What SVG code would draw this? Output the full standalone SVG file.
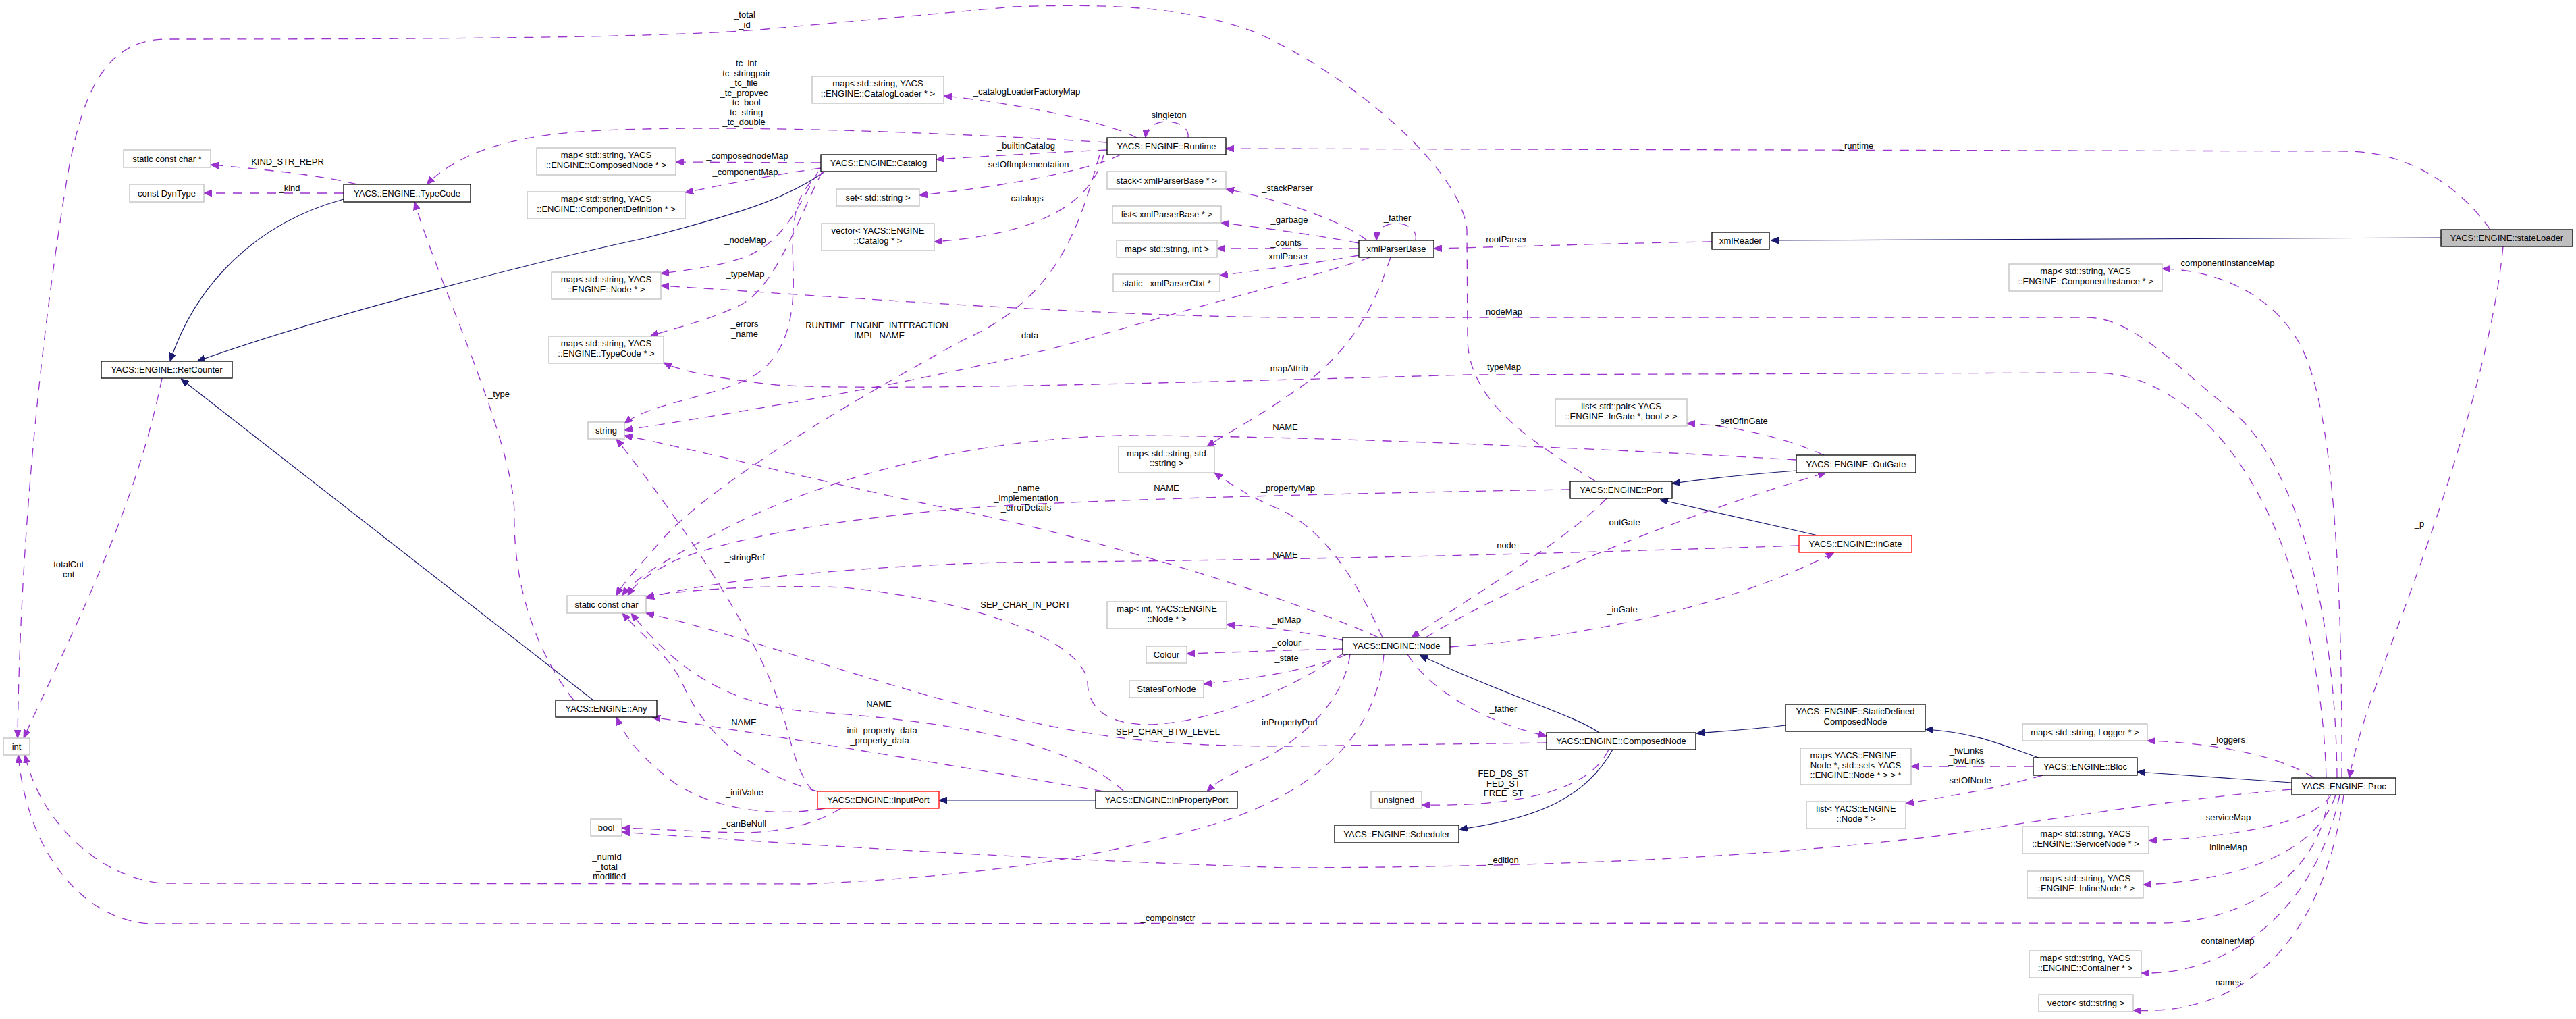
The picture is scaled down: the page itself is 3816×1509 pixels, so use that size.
<svg xmlns="http://www.w3.org/2000/svg" width="3816" height="1509" viewBox="0 0 3816 1509">
<style>
text{font-family:"Liberation Sans",Arial,sans-serif;font-size:13px;text-anchor:middle;fill:#000}
.nb rect{fill:#fff;stroke:#000;stroke-width:1.3}
.ng rect{fill:#fff;stroke:#bfbfbf;stroke-width:1.3}
.nr rect{fill:#fff;stroke:#ff0000;stroke-width:1.3}
.ns rect{fill:#bfbfbf;stroke:#000;stroke-width:1.3}
.u{fill:none;stroke:#9a32cd;stroke-width:1.3;stroke-dasharray:14,11;marker-end:url(#ap)}
.i{fill:none;stroke:#191970;stroke-width:1.2;marker-end:url(#ab)}
</style>
<defs>
<marker id="ap" viewBox="0 0 12 10" refX="12" refY="5" markerWidth="12" markerHeight="10" markerUnits="userSpaceOnUse" orient="auto"><path d="M0,0 L12,5 L0,10 z" fill="#9a32cd" stroke="#9a32cd"/></marker>
<marker id="ab" viewBox="0 0 12 10" refX="12" refY="5" markerWidth="12" markerHeight="10" markerUnits="userSpaceOnUse" orient="auto"><path d="M0,0 L12,5 L0,10 z" fill="#191970" stroke="#191970"/></marker>
</defs>
<rect x="0" y="0" width="3816" height="1509" fill="#fff"/>
<g id="connectors">
<path class="i" d="M3616,352 L2623,356"/>
<path class="i" d="M509,295 C380,330 290,420 252,535"/>
<path class="i" d="M1222,254 C1170,290 1120,310 954,353 C850,375 500,460 292,535"/>
<path class="i" d="M879,1037 L268,561"/>
<path class="i" d="M2661,697 C2580,703 2520,710 2477,716"/>
<path class="i" d="M2693,793 L2459,740"/>
<path class="i" d="M1623,1185 L1391,1185"/>
<path class="i" d="M2369,1085 C2330,1058 2230,1030 2103,970"/>
<path class="i" d="M2389,1110 C2350,1180 2280,1212 2162,1228"/>
<path class="i" d="M2645,1074 C2600,1080 2560,1082 2513,1086"/>
<path class="i" d="M3020,1122 C2970,1105 2930,1085 2852,1080"/>
<path class="i" d="M3395,1159 L3166,1143"/>
<path class="u" d="M529,273 C470,258 380,250 312,244"/>
<path class="u" d="M509,286 L302,286"/>
<path class="u" d="M1640,211 C1300,190 1000,185 860,195 C760,202 680,225 632,273"/>
<path class="u" d="M1684,204 C1640,180 1500,152 1398,142"/>
<path class="u" d="M1760,204 C1762,188 1745,180 1728,180 C1712,180 1698,188 1697,204"/>
<path class="u" d="M1640,222 C1550,226 1450,232 1387,236"/>
<path class="u" d="M1660,229 C1620,250 1500,275 1362,289"/>
<path class="u" d="M1635,229 C1620,290 1560,345 1384,358"/>
<path class="u" d="M1629,229 C1600,330 1570,440 1428,503 C1250,600 1050,720 980,800 C950,835 925,860 913,882"/>
<path class="u" d="M1216,241 L1001,240"/>
<path class="u" d="M1216,249 C1150,258 1080,272 1015,285"/>
<path class="u" d="M1212,254 C1180,310 1160,360 1100,382 C1060,395 1020,400 979,405"/>
<path class="u" d="M1218,254 C1180,330 1150,420 1100,450 C1050,475 1000,485 963,498"/>
<path class="u" d="M1222,254 C1175,280 1172,330 1175,400 C1178,480 1160,540 1100,565 C1040,590 960,600 925,627"/>
<path class="u" d="M2025,356 C2000,335 1920,300 1816,280"/>
<path class="u" d="M2013,360 C1960,350 1880,338 1809,330"/>
<path class="u" d="M2013,368 L1803,368"/>
<path class="u" d="M2013,378 C1960,388 1880,398 1807,408"/>
<path class="u" d="M2030,381 C1980,400 1750,460 1600,505 C1400,560 1100,610 925,637"/>
<path class="u" d="M2097,356 C2100,340 2085,331 2069,331 C2050,331 2040,340 2039,356"/>
<path class="u" d="M2060,381 C2040,440 2010,520 1908,586 C1860,620 1820,640 1788,661"/>
<path class="u" d="M2536,358 C2400,360 2250,365 2124,368"/>
<path class="u" d="M3689,340 C3640,270 3560,224 3476,224 L1816,220"/>
<path class="u" d="M3708,365 C3690,550 3600,800 3540,960 C3510,1040 3490,1100 3480,1152"/>
<path class="u" d="M3469,1152 C3470,900 3460,650 3420,540 C3390,450 3300,400 3203,398"/>
<path class="u" d="M3462,1152 C3460,900 3400,680 3300,603 C3220,540 3160,470 3090,470 L1900,470 C1600,467 1250,440 979,423"/>
<path class="u" d="M3446,1152 C3440,950 3380,720 3250,610 C3190,565 3150,552 3096,552 L2176,555 C1800,565 1300,580 1150,570 C1060,560 1010,550 983,537"/>
<path class="u" d="M3449,1177 C3440,1290 3330,1366 3200,1367 L220,1368 C120,1360 40,1260 27,1118"/>
<path class="u" d="M2050,969 C2040,1080 1960,1170 1800,1220 C1600,1280 1400,1300 1197,1309 L240,1308 C150,1300 60,1220 37,1118"/>
<path class="u" d="M240,560 C200,760 100,950 35,1093"/>
<path class="u" d="M2364,713 C2280,660 2176,600 2174,503 L2173,340 C2165,250 2000,110 1860,48 C1760,10 1650,5 1500,10 L1136,43 C1000,55 700,58 243,58 C150,60 120,150 100,260 C60,500 30,800 26,1093"/>
<path class="u" d="M850,1037 C790,960 760,860 762,760 C760,650 650,420 614,299"/>
<path class="u" d="M1222,1197 C1150,1210 1060,1200 1000,1160 C960,1130 930,1100 913,1062"/>
<path class="u" d="M1635,1172 C1450,1140 1150,1090 966,1062"/>
<path class="u" d="M1246,1197 C1200,1225 1150,1232 1100,1233 C1040,1232 980,1228 921,1226"/>
<path class="u" d="M3395,1169 C3200,1185 3000,1220 2862,1239 C2600,1270 2300,1284 1908,1285 C1500,1272 1100,1245 921,1232"/>
<path class="u" d="M1205,1172 C1175,1140 1170,1080 1150,1030 C1110,920 1000,760 913,650"/>
<path class="u" d="M1211,1172 C1100,1140 1040,1080 1010,1010 C990,970 950,940 922,908"/>
<path class="u" d="M1665,1172 C1600,1110 1450,1070 1200,1054 C1080,1045 1000,990 935,908"/>
<path class="u" d="M2291,1100 L1908,1105 C1750,1105 1650,1098 1500,1063 C1300,1015 1100,940 957,908"/>
<path class="u" d="M1992,966 C1900,1030 1780,1072 1700,1073 C1640,1072 1612,1050 1611,1010 C1605,950 1450,890 1250,870 C1120,865 1000,875 957,884"/>
<path class="u" d="M2665,808 C2300,820 1900,830 1477,833 C1250,840 1050,860 957,886"/>
<path class="u" d="M2326,725 C2000,730 1700,738 1500,748 C1300,760 1100,790 1000,830 C960,850 940,865 930,882"/>
<path class="u" d="M2661,681 C2300,660 1900,645 1660,645 C1450,650 1250,700 1100,770 C1000,820 940,855 922,882"/>
<path class="u" d="M2042,944 C1900,880 1600,790 1400,752 C1200,710 1050,670 925,645"/>
<path class="u" d="M2048,944 C2010,860 1960,780 1890,752 C1850,735 1820,715 1799,700"/>
<path class="u" d="M1989,948 C1930,935 1870,928 1817,925"/>
<path class="u" d="M1989,961 C1900,963 1820,966 1758,968"/>
<path class="u" d="M1995,969 C1950,990 1860,1005 1783,1013"/>
<path class="u" d="M2000,969 C1990,1040 1930,1090 1880,1120 C1840,1140 1810,1150 1788,1172"/>
<path class="u" d="M2085,969 C2110,1010 2180,1065 2291,1090"/>
<path class="u" d="M2112,944 C2250,860 2500,760 2705,700"/>
<path class="u" d="M2148,958 C2400,940 2600,880 2717,818"/>
<path class="u" d="M2380,738 C2320,800 2200,870 2091,944"/>
<path class="u" d="M2702,674 C2650,650 2570,630 2499,627"/>
<path class="u" d="M2383,1110 C2360,1160 2280,1195 2106,1192"/>
<path class="u" d="M3012,1135 L2831,1135"/>
<path class="u" d="M3026,1148 C2950,1170 2880,1180 2823,1190"/>
<path class="u" d="M3428,1152 C3380,1120 3280,1100 3181,1097"/>
<path class="u" d="M3453,1177 C3430,1220 3300,1240 3183,1245"/>
<path class="u" d="M3460,1177 C3430,1270 3300,1305 3175,1310"/>
<path class="u" d="M3466,1177 C3430,1350 3300,1445 3172,1441"/>
<path class="u" d="M3472,1177 C3440,1400 3320,1505 3160,1496"/>
<g id="edge-labels">
<text x="426" y="244">KIND_STR_REPR</text>
<text x="429" y="283">_kind</text>
<text x="1102" y="98">_tc_int<tspan x="1102" dy="14.5">_tc_stringpair</tspan><tspan x="1102" dy="14.5">_tc_file</tspan><tspan x="1102" dy="14.5">_tc_propvec</tspan><tspan x="1102" dy="14.5">_tc_bool</tspan><tspan x="1102" dy="14.5">_tc_string</tspan><tspan x="1102" dy="14.5">_tc_double</tspan></text>
<text x="1103" y="26">_total<tspan x="1103" dy="14.5">_id</tspan></text>
<text x="1521" y="140">_catalogLoaderFactoryMap</text>
<text x="1728" y="175">_singleton</text>
<text x="1520" y="220">_builtinCatalog</text>
<text x="1520" y="248">_setOfImplementation</text>
<text x="1518" y="298">_catalogs</text>
<text x="1107" y="235">_composednodeMap</text>
<text x="1104" y="259">_componentMap</text>
<text x="1104" y="360">_nodeMap</text>
<text x="1104" y="410">_typeMap</text>
<text x="1103" y="484">_errors<tspan x="1103" dy="14.5">_name</tspan></text>
<text x="1299" y="486">RUNTIME_ENGINE_INTERACTION<tspan x="1299" dy="14.5">_IMPL_NAME</tspan></text>
<text x="1522" y="501">_data</text>
<text x="1907" y="283">_stackParser</text>
<text x="1910" y="330">_garbage</text>
<text x="1905" y="364">_counts</text>
<text x="1905" y="384">_xmlParser</text>
<text x="2070" y="327">_father</text>
<text x="2228" y="359">_rootParser</text>
<text x="2750" y="220">_runtime</text>
<text x="2228" y="466">nodeMap</text>
<text x="3300" y="394">componentInstanceMap</text>
<text x="3584" y="780">_p</text>
<text x="1906" y="550">_mapAttrib</text>
<text x="2228" y="548">typeMap</text>
<text x="2580" y="628">_setOfInGate</text>
<text x="1904" y="637">NAME</text>
<text x="1908" y="727">_propertyMap</text>
<text x="1728" y="727">NAME</text>
<text x="1520" y="727">_name<tspan x="1520" dy="14.5">_implementation</tspan><tspan x="1520" dy="14.5">_errorDetails</tspan></text>
<text x="1904" y="826">NAME</text>
<text x="2403" y="778">_outGate</text>
<text x="2228" y="812">_node</text>
<text x="1103" y="830">_stringRef</text>
<text x="1519" y="900">SEP_CHAR_IN_PORT</text>
<text x="1906" y="922">_idMap</text>
<text x="2403" y="907">_inGate</text>
<text x="1906" y="956">_colour</text>
<text x="1906" y="979">_state</text>
<text x="98" y="840">_totalCnt<tspan x="98" dy="14.5">_cnt</tspan></text>
<text x="739" y="588">_type</text>
<text x="1302" y="1047">NAME</text>
<text x="1102" y="1074">NAME</text>
<text x="1303" y="1086">_init_property_data<tspan x="1303" dy="14.5">_property_data</tspan></text>
<text x="1730" y="1088">SEP_CHAR_BTW_LEVEL</text>
<text x="1907" y="1074">_inPropertyPort</text>
<text x="1103" y="1178">_initValue</text>
<text x="1102" y="1224">_canBeNull</text>
<text x="899" y="1273">_numId<tspan x="899" dy="14.5">_total</tspan><tspan x="899" dy="14.5">_modified</tspan></text>
<text x="1730" y="1364">_compoinstctr</text>
<text x="2227" y="1054">_father</text>
<text x="2227" y="1150">FED_DS_ST<tspan x="2227" dy="14.5">FED_ST</tspan><tspan x="2227" dy="14.5">FREE_ST</tspan></text>
<text x="2227" y="1278">_edition</text>
<text x="2913" y="1116">_fwLinks<tspan x="2913" dy="14.5">_bwLinks</tspan></text>
<text x="2915" y="1160">_setOfNode</text>
<text x="3301" y="1100">_loggers</text>
<text x="3301" y="1215">serviceMap</text>
<text x="3301" y="1259">inlineMap</text>
<text x="3300" y="1398">containerMap</text>
<text x="3301" y="1459">names</text>
</g>
</g>
<g id="n_stateLoader" class="ns"><rect x="3616" y="340" width="195" height="25"/><text x="3713.5" y="357">YACS::ENGINE::stateLoader</text></g>
<g id="n_xmlReader" class="nb"><rect x="2536" y="344" width="85" height="25"/><text x="2578.5" y="361">xmlReader</text></g>
<g id="n_xmlParserBase" class="nb"><rect x="2013" y="356" width="111" height="25"/><text x="2068.5" y="373">xmlParserBase</text></g>
<g id="n_Runtime" class="nb"><rect x="1640" y="204" width="176" height="25"/><text x="1728" y="221">YACS::ENGINE::Runtime</text></g>
<g id="n_Catalog" class="nb"><rect x="1216" y="229" width="171" height="25"/><text x="1301.5" y="246">YACS::ENGINE::Catalog</text></g>
<g id="n_mapCatalogLoader" class="ng"><rect x="1203" y="113" width="195" height="40"/><text x="1300.5" y="128">map&lt; std::string, YACS<tspan x="1300.5" dy="14.5">::ENGINE::CatalogLoader * &gt;</tspan></text></g>
<g id="n_setString" class="ng"><rect x="1239" y="280" width="123" height="25"/><text x="1300.5" y="297">set&lt; std::string &gt;</text></g>
<g id="n_vectorCatalog" class="ng"><rect x="1217" y="331" width="167" height="40"/><text x="1300.5" y="346">vector&lt; YACS::ENGINE<tspan x="1300.5" dy="14.5">::Catalog * &gt;</tspan></text></g>
<g id="n_stack" class="ng"><rect x="1640" y="254" width="176" height="26"/><text x="1728" y="271.5">stack&lt; xmlParserBase * &gt;</text></g>
<g id="n_list" class="ng"><rect x="1648" y="305" width="161" height="25"/><text x="1728.5" y="322">list&lt; xmlParserBase * &gt;</text></g>
<g id="n_mapStringInt" class="ng"><rect x="1654" y="356" width="149" height="25"/><text x="1728.5" y="373">map&lt; std::string, int &gt;</text></g>
<g id="n_xmlParserCtxt" class="ng"><rect x="1649" y="406" width="158" height="26"/><text x="1728" y="423.5">static _xmlParserCtxt *</text></g>
<g id="n_staticConstCharPtr" class="ng"><rect x="183" y="222" width="129" height="26"/><text x="247.5" y="239.5">static const char *</text></g>
<g id="n_constDynType" class="ng"><rect x="192" y="273" width="110" height="26"/><text x="247" y="290.5">const DynType</text></g>
<g id="n_TypeCode" class="nb"><rect x="509" y="273" width="188" height="26"/><text x="603" y="290.5">YACS::ENGINE::TypeCode</text></g>
<g id="n_mapComposedNode" class="ng"><rect x="795" y="219" width="206" height="40"/><text x="898" y="234">map&lt; std::string, YACS<tspan x="898" dy="14.5">::ENGINE::ComposedNode * &gt;</tspan></text></g>
<g id="n_mapComponentDefinition" class="ng"><rect x="781" y="284" width="234" height="40"/><text x="898" y="299">map&lt; std::string, YACS<tspan x="898" dy="14.5">::ENGINE::ComponentDefinition * &gt;</tspan></text></g>
<g id="n_mapNode" class="ng"><rect x="817" y="403" width="162" height="40"/><text x="898" y="418">map&lt; std::string, YACS<tspan x="898" dy="14.5">::ENGINE::Node * &gt;</tspan></text></g>
<g id="n_mapTypeCode" class="ng"><rect x="813" y="498" width="170" height="40"/><text x="898" y="513">map&lt; std::string, YACS<tspan x="898" dy="14.5">::ENGINE::TypeCode * &gt;</tspan></text></g>
<g id="n_RefCounter" class="nb"><rect x="150" y="535" width="194" height="25"/><text x="247" y="552">YACS::ENGINE::RefCounter</text></g>
<g id="n_string" class="ng"><rect x="871" y="625" width="54" height="25"/><text x="898" y="642">string</text></g>
<g id="n_staticConstChar" class="ng"><rect x="840" y="882" width="117" height="26"/><text x="898.5" y="899.5">static const char</text></g>
<g id="n_int" class="ng"><rect x="5" y="1093" width="39" height="25"/><text x="24.5" y="1110">int</text></g>
<g id="n_Any" class="nb"><rect x="823" y="1037" width="150" height="25"/><text x="898" y="1054">YACS::ENGINE::Any</text></g>
<g id="n_bool" class="ng"><rect x="875" y="1213" width="46" height="25"/><text x="898" y="1230">bool</text></g>
<g id="n_InputPort" class="nr"><rect x="1211" y="1172" width="180" height="25"/><text x="1301" y="1189">YACS::ENGINE::InputPort</text></g>
<g id="n_InPropertyPort" class="nb"><rect x="1623" y="1172" width="210" height="25"/><text x="1728" y="1189">YACS::ENGINE::InPropertyPort</text></g>
<g id="n_StatesForNode" class="ng"><rect x="1673" y="1008" width="110" height="25"/><text x="1728" y="1025">StatesForNode</text></g>
<g id="n_Colour" class="ng"><rect x="1698" y="957" width="60" height="25"/><text x="1728" y="974">Colour</text></g>
<g id="n_mapIntNode" class="ng"><rect x="1640" y="891" width="177" height="40"/><text x="1728.5" y="906">map&lt; int, YACS::ENGINE<tspan x="1728.5" dy="14.5">::Node * &gt;</tspan></text></g>
<g id="n_mapStringString" class="ng"><rect x="1657" y="661" width="142" height="39"/><text x="1728" y="675.5">map&lt; std::string, std<tspan x="1728" dy="14.5">::string &gt;</tspan></text></g>
<g id="n_listPair" class="ng"><rect x="2304" y="591" width="195" height="40"/><text x="2401.5" y="606">list&lt; std::pair&lt; YACS<tspan x="2401.5" dy="14.5">::ENGINE::InGate *, bool &gt; &gt;</tspan></text></g>
<g id="n_OutGate" class="nb"><rect x="2661" y="674" width="177" height="26"/><text x="2749.5" y="691.5">YACS::ENGINE::OutGate</text></g>
<g id="n_Port" class="nb"><rect x="2326" y="713" width="151" height="25"/><text x="2401.5" y="730">YACS::ENGINE::Port</text></g>
<g id="n_InGate" class="nr"><rect x="2665" y="793" width="167" height="25"/><text x="2748.5" y="810">YACS::ENGINE::InGate</text></g>
<g id="n_Node" class="nb"><rect x="1989" y="944" width="159" height="25"/><text x="2068.5" y="961">YACS::ENGINE::Node</text></g>
<g id="n_ComposedNode" class="nb"><rect x="2291" y="1085" width="221" height="25"/><text x="2401.5" y="1102">YACS::ENGINE::ComposedNode</text></g>
<g id="n_StaticDefinedComposedNode" class="nb"><rect x="2645" y="1043" width="207" height="40"/><text x="2748.5" y="1058">YACS::ENGINE::StaticDefined<tspan x="2748.5" dy="14.5">ComposedNode</tspan></text></g>
<g id="n_mapLinks" class="ng"><rect x="2667" y="1108" width="164" height="54"/><text x="2749" y="1123">map&lt; YACS::ENGINE::<tspan x="2749" dy="14.5">Node *, std::set&lt; YACS</tspan><tspan x="2749" dy="14.5">::ENGINE::Node * &gt; &gt; *</tspan></text></g>
<g id="n_listNode" class="ng"><rect x="2676" y="1187" width="147" height="40"/><text x="2749.5" y="1202">list&lt; YACS::ENGINE<tspan x="2749.5" dy="14.5">::Node * &gt;</tspan></text></g>
<g id="n_unsigned" class="ng"><rect x="2031" y="1172" width="75" height="25"/><text x="2068.5" y="1189">unsigned</text></g>
<g id="n_Scheduler" class="nb"><rect x="1977" y="1222" width="184" height="26"/><text x="2069" y="1239.5">YACS::ENGINE::Scheduler</text></g>
<g id="n_Bloc" class="nb"><rect x="3012" y="1122" width="154" height="26"/><text x="3089" y="1139.5">YACS::ENGINE::Bloc</text></g>
<g id="n_mapLogger" class="ng"><rect x="2996" y="1072" width="185" height="25"/><text x="3088.5" y="1089">map&lt; std::string, Logger * &gt;</text></g>
<g id="n_Proc" class="nb"><rect x="3395" y="1152" width="154" height="25"/><text x="3472" y="1169">YACS::ENGINE::Proc</text></g>
<g id="n_mapServiceNode" class="ng"><rect x="2996" y="1224" width="187" height="40"/><text x="3089.5" y="1239">map&lt; std::string, YACS<tspan x="3089.5" dy="14.5">::ENGINE::ServiceNode * &gt;</tspan></text></g>
<g id="n_mapInlineNode" class="ng"><rect x="3003" y="1290" width="172" height="40"/><text x="3089" y="1305">map&lt; std::string, YACS<tspan x="3089" dy="14.5">::ENGINE::InlineNode * &gt;</tspan></text></g>
<g id="n_mapContainer" class="ng"><rect x="3006" y="1408" width="166" height="40"/><text x="3089" y="1423">map&lt; std::string, YACS<tspan x="3089" dy="14.5">::ENGINE::Container * &gt;</tspan></text></g>
<g id="n_vectorString" class="ng"><rect x="3020" y="1473" width="140" height="25"/><text x="3090" y="1490">vector&lt; std::string &gt;</text></g>
<g id="n_mapComponentInstance" class="ng"><rect x="2976" y="391" width="227" height="40"/><text x="3089.5" y="406">map&lt; std::string, YACS<tspan x="3089.5" dy="14.5">::ENGINE::ComponentInstance * &gt;</tspan></text></g>
</svg>
